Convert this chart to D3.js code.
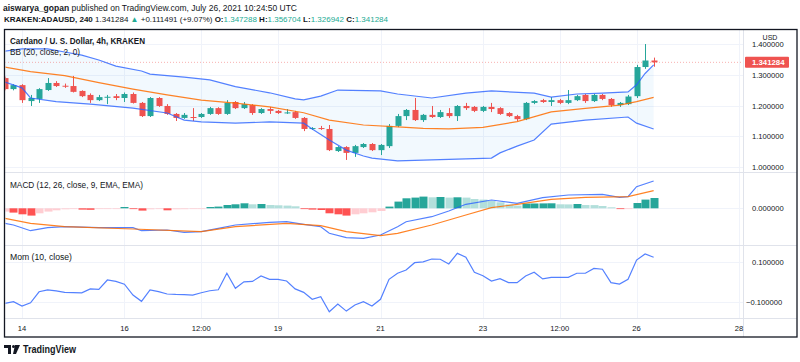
<!DOCTYPE html>
<html><head><meta charset="utf-8">
<script src="https://cdn.jsdelivr.net/npm/d3@7"></script>
<style>body{margin:0;background:#fff}svg{display:block;font-family:"Liberation Sans",Arial,sans-serif}</style>
</head><body><svg id="c" width="800" height="362"></svg>
<script>
// ---------- DATA ----------
const opens  = [1.290,1.254,1.267,1.215,1.222,1.251,1.274,1.265,1.264,1.248,1.235,1.218,1.227,1.231,1.225,1.238,1.209,1.166,1.225,1.199,1.173,1.160,1.163,1.163,1.173,1.192,1.173,1.212,1.192,1.202,1.176,1.189,1.183,1.176,1.179,1.160,1.124,1.127,1.124,1.052,1.065,1.046,1.065,1.075,1.055,1.068,1.134,1.166,1.186,1.153,1.170,1.163,1.176,1.166,1.199,1.196,1.183,1.196,1.192,1.176,1.166,1.156,1.209,1.218,1.212,1.218,1.209,1.218,1.235,1.215,1.235,1.222,1.202,1.205,1.231,1.326,1.347288];
const highs  = [1.295,1.270,1.270,1.235,1.257,1.290,1.280,1.272,1.297,1.250,1.240,1.235,1.235,1.238,1.243,1.243,1.212,1.228,1.228,1.205,1.176,1.176,1.192,1.176,1.196,1.195,1.218,1.215,1.212,1.205,1.192,1.196,1.186,1.189,1.183,1.163,1.130,1.134,1.137,1.068,1.068,1.072,1.078,1.078,1.075,1.140,1.173,1.189,1.225,1.173,1.199,1.186,1.192,1.202,1.209,1.199,1.199,1.209,1.195,1.179,1.170,1.212,1.218,1.222,1.228,1.222,1.251,1.235,1.238,1.238,1.238,1.225,1.212,1.235,1.333,1.401,1.356704];
const lows   = [1.250,1.250,1.209,1.199,1.209,1.248,1.261,1.258,1.243,1.228,1.209,1.215,1.205,1.218,1.212,1.207,1.163,1.163,1.196,1.170,1.150,1.157,1.150,1.160,1.170,1.170,1.170,1.189,1.189,1.170,1.173,1.173,1.173,1.173,1.157,1.117,1.121,1.121,1.052,1.049,1.023,1.033,1.062,1.052,1.039,1.062,1.130,1.153,1.150,1.147,1.160,1.160,1.160,1.150,1.186,1.179,1.179,1.179,1.170,1.163,1.150,1.153,1.205,1.209,1.199,1.205,1.205,1.215,1.209,1.212,1.218,1.196,1.196,1.202,1.225,1.320,1.326942];
const closes = [1.254,1.267,1.218,1.225,1.254,1.274,1.264,1.263,1.245,1.231,1.218,1.228,1.229,1.225,1.238,1.209,1.166,1.225,1.199,1.173,1.160,1.170,1.160,1.173,1.192,1.173,1.209,1.192,1.205,1.176,1.189,1.183,1.176,1.178,1.160,1.124,1.127,1.124,1.055,1.065,1.046,1.068,1.075,1.055,1.072,1.134,1.166,1.186,1.153,1.170,1.163,1.179,1.166,1.199,1.192,1.183,1.196,1.189,1.173,1.166,1.156,1.209,1.215,1.212,1.218,1.209,1.218,1.231,1.215,1.235,1.222,1.202,1.209,1.229793,1.326,1.347288,1.341284];

// Bollinger Bands (read at bar indices)
const bbUpperBars = [0,2,5,7,9,11,13,16,17,21,24,27,31,34,35,37,39,44,46,50,54,57,62,64,67,70,73,74,75,76];
const bbUpper     = [1.378,1.385,1.385,1.375,1.365,1.349,1.329,1.313,1.303,1.293,1.284,1.262,1.242,1.222,1.219,1.231,1.251,1.248,1.238,1.225,1.241,1.248,1.241,1.228,1.238,1.241,1.245,1.268,1.305,1.333];
const bbLowerBars = [0,2,3,6,10,15,19,21,23,27,31,35,36,38,40,42,43,46,50,57,58,60,62,64,68,73,74,76];
const bbLower     = [1.277,1.258,1.225,1.213,1.205,1.192,1.176,1.153,1.147,1.143,1.147,1.143,1.124,1.088,1.055,1.036,1.029,1.020,1.023,1.029,1.046,1.068,1.088,1.140,1.153,1.163,1.143,1.124];
const bbBasisBars = [0,3,7,11,15,19,23,27,31,35,38,42,46,49,52,56,60,64,68,72,74,76];
const bbBasis     = [1.326,1.311,1.298,1.275,1.254,1.235,1.218,1.208,1.196,1.177,1.153,1.137,1.131,1.126,1.124,1.129,1.148,1.180,1.191,1.202,1.213,1.227];

// MACD (12, 26, close, 9)
const macdBars   = [0,1,3,5,7,11,15,16,19,21,23,25,27,31,33,35,37,38,40,42,44,46,47,50,52,54,57,60,63,66,70,72,73,74,76];
const macdLine   = [-0.0150,-0.0167,-0.0224,-0.0194,-0.0184,-0.0194,-0.0194,-0.0224,-0.0217,-0.0240,-0.0234,-0.0200,-0.0167,-0.0140,-0.0134,-0.0160,-0.0184,-0.0250,-0.0294,-0.0300,-0.0267,-0.0184,-0.0134,-0.0084,-0.0027,0.0040,0.0083,0.0050,0.0106,0.0133,0.0140,0.0110,0.0116,0.0216,0.0273];
const signalBars = [0,3,7,15,23,27,33,37,40,44,46,50,54,57,60,64,68,73,76];
const signalLine = [-0.0100,-0.0150,-0.0184,-0.0207,-0.0234,-0.0184,-0.0150,-0.0174,-0.0234,-0.0274,-0.0250,-0.0167,-0.0067,0.0006,0.0040,0.0090,0.0110,0.0116,0.0176];
const macdHist   = [-3.3,-4.3,-6,-7.3,-5,-3.3,-2,-1,-0.8,-1.3,-1.5,-0.7,-0.5,-0.2,1.3,-0.7,-2.3,-1,-0.7,-2,-1,-0.9,-0.8,-0.5,1.3,1.7,3.3,4,5,4,4.3,3.3,3,2.7,2,-0.7,-1.3,-1.7,-5,-6,-7.3,-6,-5,-4,-2.7,1.7,6.7,10,10.7,11.7,11,11.3,10.7,11,10.7,9.3,8.7,7.3,6,4,2.7,4.7,4.8,4.9,5.0,4,3.9,4.3,3.3,3.2,2.3,1,-0.5,-0.2,5.3,8.7,10.3].map(v => v / 1000);

// Momentum (10, close)
const momentum = [-0.105,-0.097,-0.118,-0.102,-0.048,-0.039,-0.044,-0.051,-0.052,-0.053,-0.034,-0.036,0.010,0.003,-0.011,-0.064,-0.095,-0.039,-0.047,-0.059,-0.061,-0.062,-0.064,-0.053,-0.043,-0.038,0.043,-0.031,0.001,0.003,0.030,0.013,0.013,0.005,-0.034,-0.051,-0.085,-0.072,-0.146,-0.108,-0.143,-0.113,-0.097,-0.118,-0.085,0.013,0.043,0.059,0.095,0.099,0.113,0.112,0.089,0.141,0.122,0.048,0.031,0.005,0.016,-0.003,-0.003,0.030,0.048,0.015,0.023,0.023,0.023,0.043,0.043,0.067,0.063,-0.003,-0.010,0.013,0.108,0.138,0.122];

// Axis ticks
const timeTicks  = [[2021,6,14,0],[2021,6,16,0],[2021,6,17,12],[2021,6,19,0],[2021,6,21,0],[2021,6,23,0],[2021,6,24,12],[2021,6,26,0],[2021,6,28,0]];
const timeLabels = ["14","16","12:00","19","21","23","12:00","26","28"];
const priceTicks = [1.0,1.1,1.2,1.3,1.4];
const macdTicks  = [0];
const momTicks   = [0.1,-0.1];
const lastPrice  = 1.341284;

// ---------- LAYOUT ----------
const svg = d3.select('#c');
const L = 5, R = 743, FR = 797, TOP = 29, BOT = 337;
const mainP = [29,172], macdP = [172,245], momP = [245,318];
const TEAL = '#26a69a', RED = '#ef5350', BLUE = '#2962ff', ORANGE = '#ff6d00', TXT = '#131722', HTEAL = '#22ab94';

const x = d3.scaleUtc().domain([new Date(Date.UTC(2021,6,14)), new Date(Date.UTC(2021,6,28))]).range([22,739]);
const barX = i => x(new Date(Date.UTC(2021,6,13,16) + i*4*3600e3));
const yP = d3.scaleLinear().domain([0.9837,1.45]).range([mainP[1],mainP[0]]);
const yM = d3.scaleLinear().domain([-0.0367,0.0363]).range([macdP[1],macdP[0]]);
const yO = d3.scaleLinear().domain([-0.177,0.182]).range([momP[1],momP[0]]);

const defs = svg.append('defs');
defs.append('clipPath').attr('id','clip').append('rect').attr('x',L+0.5).attr('y',TOP).attr('width',R-L-0.5).attr('height',momP[1]-TOP);

// grid
const grid = svg.append('g').attr('stroke','#f0f3fa').attr('stroke-width',1);
timeTicks.forEach(t => {
  const xx = Math.round(x(new Date(Date.UTC(...t))))+0.5;
  grid.append('line').attr('x1',xx).attr('x2',xx).attr('y1',TOP).attr('y2',momP[1]);
});
priceTicks.forEach(v => grid.append('line').attr('x1',L).attr('x2',R).attr('y1',Math.round(yP(v))+0.5).attr('y2',Math.round(yP(v))+0.5));
macdTicks.forEach(v => grid.append('line').attr('x1',L).attr('x2',R).attr('y1',Math.round(yM(v))+0.5).attr('y2',Math.round(yM(v))+0.5));
momTicks.forEach(v => grid.append('line').attr('x1',L).attr('x2',R).attr('y1',Math.round(yO(v))+0.5).attr('y2',Math.round(yO(v))+0.5));

const plot = svg.append('g').attr('clip-path','url(#clip)');

// BB fill
const pts = (bars, vals, ys) => bars.map((b,i) => [barX(b), ys(vals[i])]);
const up = pts(bbUpperBars, bbUpper, yP), lo = pts(bbLowerBars, bbLower, yP), ba = pts(bbBasisBars, bbBasis, yP);
const line = d3.line();
plot.append('path').attr('d', line(up.concat(lo.slice().reverse())) + 'Z').attr('fill','#2196f3').attr('fill-opacity',0.06);

// current price dashed line
plot.append('line').attr('x1',L).attr('x2',R).attr('y1',yP(lastPrice)).attr('y2',yP(lastPrice))
  .attr('stroke',RED).attr('stroke-opacity',0.45).attr('stroke-dasharray','1,2');

// candles
const cg = plot.append('g');
closes.forEach((c,i) => {
  const o = opens[i], col = c >= o ? TEAL : RED, cx = Math.round(barX(i));
  cg.append('line').attr('x1',cx+0.5).attr('x2',cx+0.5).attr('y1',yP(highs[i])).attr('y2',yP(lows[i])).attr('stroke',col).attr('stroke-width',1);
  const t = yP(Math.max(o,c)), b = yP(Math.min(o,c));
  cg.append('rect').attr('x',cx-2.5).attr('width',6).attr('y',t).attr('height',Math.max(1,b-t)).attr('fill',col);
});

// BB lines
plot.append('path').attr('d',line(up)).attr('fill','none').attr('stroke',BLUE).attr('stroke-width',1.2).attr('opacity',0.8);
plot.append('path').attr('d',line(lo)).attr('fill','none').attr('stroke',BLUE).attr('stroke-width',1.2).attr('opacity',0.8);
plot.append('path').attr('d',line(ba)).attr('fill','none').attr('stroke',ORANGE).attr('stroke-width',1.2).attr('opacity',0.85);

// MACD histogram
macdHist.forEach((v,i) => {
  const prev = i > 0 ? macdHist[i-1] : v;
  let col;
  if (v >= 0) col = v > prev ? '#26a69a' : '#b2dfdb';
  else col = v < prev ? '#ff5252' : '#ffcdd2';
  const cx = barX(i), y0 = yM(0), y1 = yM(v);
  plot.append('rect').attr('x',Math.round(cx)-3.5).attr('width',8).attr('y',Math.min(y0,y1)).attr('height',Math.max(0.8,Math.abs(y1-y0))).attr('fill',col);
});
plot.append('path').attr('d',line(pts(macdBars,macdLine,yM))).attr('fill','none').attr('stroke',BLUE).attr('stroke-width',1.2).attr('opacity',0.8);
plot.append('path').attr('d',line(pts(signalBars,signalLine,yM))).attr('fill','none').attr('stroke',ORANGE).attr('stroke-width',1.2).attr('opacity',0.85);

// Momentum
plot.append('path').attr('d',line(momentum.map((v,i)=>[barX(i),yO(v)]))).attr('fill','none').attr('stroke',BLUE).attr('stroke-width',1.2).attr('opacity',0.8);

// separators
const sep = svg.append('g').attr('stroke','#e0e3eb').attr('stroke-width',1);
[mainP[1], macdP[1], momP[1]].forEach(yy => sep.append('line').attr('x1',L).attr('x2',FR).attr('y1',yy+0.5).attr('y2',yy+0.5));
sep.append('line').attr('x1',R+0.5).attr('x2',R+0.5).attr('y1',TOP).attr('y2',BOT);

// axis labels
const ax = svg.append('g').attr('fill',TXT).attr('font-size','7.6px');
const fmt = d3.format('.6f');
priceTicks.forEach(v => ax.append('text').attr('x',752).attr('y',yP(v)+3).text(fmt(v)));
macdTicks.forEach(v => ax.append('text').attr('x',752).attr('y',yM(v)+3).text(fmt(v)));
momTicks.forEach(v => ax.append('text').attr('x',v<0?746:752).attr('y',yO(v)+3).text(v<0 ? '\u2212' + fmt(-v) : fmt(v)));
timeTicks.forEach((t,i) => ax.append('text').attr('x',x(new Date(Date.UTC(...t)))).attr('y',331).attr('text-anchor','middle').text(timeLabels[i]));

// USD label
svg.append('rect').attr('x',757).attr('y',32).attr('width',26).attr('height',9).attr('fill','#fff');
svg.append('text').attr('x',770).attr('y',40).attr('text-anchor','middle').attr('font-size','7px').attr('fill',TXT).text('USD');

// last price label
svg.append('rect').attr('x',745).attr('y',yP(lastPrice)-5.5).attr('width',44).attr('height',11).attr('rx',1).attr('fill',RED);
svg.append('text').attr('x',752).attr('y',yP(lastPrice)+3).attr('font-size','7.8px').attr('fill','#fff').attr('font-weight','bold').text(fmt(lastPrice));

// legends
const lg = svg.append('g').attr('fill',TXT).attr('font-size','8.4px');
lg.append('text').attr('x',10).attr('y',44).attr('font-weight','bold').attr('textLength',135).attr('lengthAdjust','spacingAndGlyphs').text('Cardano / U. S. Dollar, 4h, KRAKEN');
lg.append('text').attr('x',10).attr('y',54.5).attr('textLength',70).attr('lengthAdjust','spacingAndGlyphs').text('BB (20, close, 2, 0)');
lg.append('text').attr('x',10).attr('y',188).attr('textLength',133).attr('lengthAdjust','spacingAndGlyphs').text('MACD (12, 26, close, 9, EMA, EMA)');
lg.append('text').attr('x',10).attr('y',259.5).attr('textLength',62).attr('lengthAdjust','spacingAndGlyphs').text('Mom (10, close)');

// header line 1
const h1 = svg.append('text').attr('x',3).attr('y',11).attr('font-size','8.6px').attr('fill',TXT)
  .attr('textLength',294).attr('lengthAdjust','spacingAndGlyphs');
h1.append('tspan').attr('font-weight','bold').text('aiswarya_gopan');
h1.append('tspan').text(' published on TradingView.com, July 26, 2021 10:24:50 UTC');

// header line 2
const h2 = svg.append('text').attr('x',4).attr('y',22).attr('font-size','8.1px').attr('fill',TXT)
  .attr('textLength',384).attr('lengthAdjust','spacingAndGlyphs');
const parts = [
  ['KRAKEN:ADAUSD, 240', true, TXT], [' 1.341284 ', false, TXT], ['\u25B2', false, HTEAL],
  [' +0.111491 (+9.07%) ', false, TXT],
  ['O:', true, TXT], ['1.347288 ', false, HTEAL],
  ['H:', true, TXT], ['1.356704 ', false, HTEAL],
  ['L:', true, TXT], ['1.326942 ', false, HTEAL],
  ['C:', true, TXT], ['1.341284', false, HTEAL]
];
parts.forEach(([t,b,c]) => h2.append('tspan').attr('font-weight', b ? 'bold' : 'normal').attr('fill', c).text(t));

// frame
svg.append('rect').attr('x',4.5).attr('y',29.5).attr('width',FR-4.5).attr('height',BOT-29.5).attr('fill','none').attr('stroke',TXT).attr('stroke-width',1.3);

// TradingView logo
const lgo = svg.append('g').attr('fill',TXT);
lgo.append('path').attr('d','M4,345 h7 v9 h-3 v-6 h-4 z');
lgo.append('circle').attr('cx',13.5).attr('cy',346.5).attr('r',1.5);
lgo.append('path').attr('d','M15,345 h5 l-4,9 h-3 z');
lgo.append('text').attr('x',23).attr('y',353).attr('font-size','10px').attr('font-weight','bold').attr('textLength',53).attr('lengthAdjust','spacingAndGlyphs').text('TradingView');
</script></body></html>
